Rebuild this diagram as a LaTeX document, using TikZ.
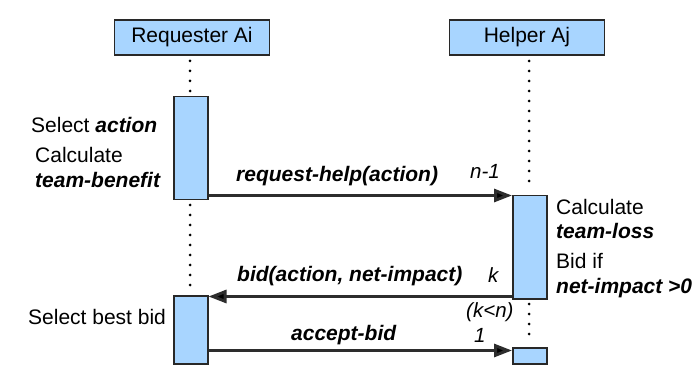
\documentclass[tikz,border=0pt]{standalone}
\usepackage{fontspec}
\setmainfont{Liberation Sans}
\usetikzlibrary{arrows.meta}
\definecolor{actfill}{RGB}{168,213,255}
\definecolor{edge}{RGB}{40,40,40}
\definecolor{msg}{RGB}{45,45,45}
\tikzset{
  actor/.style={draw=edge, line width=1.5pt, fill=actfill, minimum width=155pt, minimum height=35pt, inner sep=0pt, font=\fontsize{21}{24}\selectfont},
  actbox/.style={draw=edge, line width=1.5pt, fill=actfill},
  life/.style={draw=black, line width=3pt, line cap=round, dash pattern=on 0pt off 10pt},
  msgline/.style={draw=msg, line width=3pt, -{Triangle[length=18pt,width=13pt,fill=black]}},
  lbl/.style={font=\fontsize{21}{24}\selectfont\bfseries\itshape, inner sep=0pt},
  note/.style={font=\fontsize{21}{24}\selectfont, inner sep=0pt, align=left},
  small/.style={font=\fontsize{20.5}{23}\selectfont\itshape, inner sep=0pt}
}
\begin{document}
\begin{tikzpicture}[x=1pt,y=-1pt]
\useasboundingbox (0,0) rectangle (699,374);
% actors
\node[actor] (req) at (192,37.5) {Requester Ai};
\node[actor] (help) at (527,37.5) {Helper Aj};
% activation boxes
\node[actbox, minimum width=34pt, minimum height=103pt, inner sep=0pt, anchor=north west] (ra1) at (173,96) {};
\node[actbox, minimum width=34pt, minimum height=68pt, inner sep=0pt, anchor=north west] (ra2) at (173,295) {};
\node[actbox, minimum width=34pt, minimum height=103pt, inner sep=0pt, anchor=north west] (ha1) at (512,195) {};
\node[actbox, minimum width=34pt, minimum height=16pt, inner sep=0pt, anchor=north west] (ha2) at (512,347) {};
% lifelines
\coordinate (l1a) at (190,61);
\coordinate (l1b) at (190,92);
\coordinate (l2a) at (190,205);
\coordinate (l2b) at (190,291);
\coordinate (l3a) at (529,61);
\coordinate (l3b) at (529,191);
\coordinate (l4a) at (529,304);
\coordinate (l4b) at (529,343);
\draw[life] (l1a) -- (l1b);
\draw[life] (l2a) -- (l2b);
\draw[life] (l3a) -- (l3b);
\draw[life] (l4a) -- (l4b);
% messages
\draw[msgline] (ra1.south east) ++(0,-5) coordinate (m1s) -- (m1s -| ha1.west);
\draw[msgline] (ha1.south west) ++(0,-3) coordinate (m2s) -- (m2s -| ra2.east);
\draw[msgline] (ra2.south east) ++(0,-14) coordinate (m3s) -- (m3s -| ha2.west);
% message labels
\node[lbl, anchor=base west] (t1) at (236,182) {request-help(action)};
\node[small, anchor=base west] (n1) at (470,179) {n-1};
\node[lbl, anchor=base west] (t2) at (237,282) {bid(action, net-impact)};
\node[small, anchor=base west] (k1) at (488,283) {k};
\node[small, anchor=base west] (k2) at (466,317) {(k<n)};
\node[lbl, anchor=base west] (t3) at (291,340) {accept-bid};
\node[small, anchor=base west] (o1) at (474,342) {1};
% notes left
\node[note, anchor=base west] (s1) at (31,133) {Select \textbf{\textit{action}}};
\node[note, anchor=base west] (s2) at (35,163) {Calculate};
\node[note, anchor=base west] (s3) at (35,188) {\textbf{\textit{team-benefit}}};
\node[note, anchor=base west] (s4) at (28,324) {Select best bid};
% notes right
\node[note, anchor=base west] (r1) at (556,215) {Calculate};
\node[note, anchor=base west] (r2) at (556,239) {\textbf{\textit{team-loss}}};
\node[note, anchor=base west] (r3) at (556,269) {Bid if};
\node[note, anchor=base west] (r4) at (556,294) {\textbf{\textit{net-impact >0}}};
\end{tikzpicture}
\end{document}
